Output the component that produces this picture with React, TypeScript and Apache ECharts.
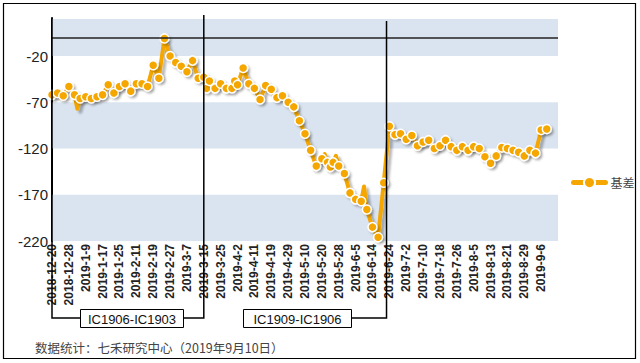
import React, { useEffect, useRef } from 'react';
import * as echarts from 'echarts';

// Trading days (category axis), grouped by month
const days2018_12 = [20, 21, 24, 25, 26, 27, 28];
const days2019_01 = [2, 3, 4, 7, 8, 9, 10, 11, 14, 15, 16, 17, 18, 21, 22, 23, 24, 25, 28, 29, 30, 31];
const days2019_02 = [1, 11, 12, 13, 14, 15, 18, 19, 20, 21, 22, 25, 26, 27, 28];
const days2019_03 = [1, 4, 5, 6, 7, 8, 11, 12, 13, 14, 15, 18, 19, 20, 21, 22, 25, 26, 27, 28, 29];
const days2019_04 = [1, 2, 3, 4, 8, 9, 10, 11, 12, 15, 16, 17, 18, 19, 22, 23, 24, 25, 26, 29, 30];
const days2019_05 = [6, 7, 8, 9, 10, 13, 14, 15, 16, 17, 20, 21, 22, 23, 24, 27, 28, 29, 30, 31];
const days2019_06 = [3, 4, 5, 6, 10, 11, 12, 13, 14, 17, 18, 19, 20, 21, 24, 25, 26, 27, 28];
const days2019_07 = [1, 2, 3, 4, 5, 8, 9, 10, 11, 12, 15, 16, 17, 18, 19, 22, 23, 24, 25, 26, 29, 30, 31];
const days2019_08 = [1, 2, 5, 6, 7, 8, 9, 12, 13, 14, 15, 16, 19, 20, 21, 22, 23, 26, 27, 28, 29, 30];
const days2019_09 = [2, 3, 4, 5, 6, 9, 10, 11, 12, 16, 17];

const months: [string, number[]][] = [
  ['2018-12-', days2018_12],
  ['2019-1-', days2019_01],
  ['2019-2-', days2019_02],
  ['2019-3-', days2019_03],
  ['2019-4-', days2019_04],
  ['2019-5-', days2019_05],
  ['2019-6-', days2019_06],
  ['2019-7-', days2019_07],
  ['2019-8-', days2019_08],
  ['2019-9-', days2019_09],
];
const dates: string[] = [];
months.forEach(([p, ds]) => ds.forEach((d) => dates.push(p + d)));

// 基差 values (null = no observation)
const basis: (number | null)[] = [
  -62, null, -60, null, -63, null, -53, null, -62, -77,
  -66, null, -64, null, -66, null, -64, null, -62, null,
  -51, null, -60, null, -53, null, -50, null, -58, null,
  -50, null, -50, null, -53, null, -30, null, -44, null,
  -1, null, -20, null, -27, null, -31, null, -37, null,
  -25, null, -44, null, -43, -55, -47, null, -55, null,
  -50, null, -55, null, -55, -47, -51, null, -33, null,
  -50, null, -55, null, -67, null, -52, null, -56, null,
  -65, null, -63, null, -70, null, -75, null, -90, null,
  -104, null, -122, null, -139, null, -131, -126, -135, -140,
  -135, -128, -139, null, -147, null, -168, null, -175, null,
  -177, -161, -186, null, -205, null, -216, null, -157, null,
  -96, null, -105, null, -104, null, -110, null, -106, null,
  -117, null, -113, null, -111, null, -120, null, -117, null,
  -111, null, -118, null, -122, null, -118, null, -122, null,
  -118, null, -120, null, -129, null, -136, null, -128, null,
  -119, null, -120, null, -122, null, -124, null, -128, null,
  -122, null, -125, null, -100, null, -99,
];
// points that are vertices of the line without a marker
const hiddenMarkers = [9, 97, 101, 111];

const yTicks = [-220, -170, -120, -70, -20];
const bands: [number, number][] = [[-220, -170], [-120, -70], [-20, 20]];
const zeroLine = 0;

const contract1 = 'IC1906-IC1903';
const contract2 = 'IC1909-IC1906';
const switch1 = '2019-3-15';
const switch2 = '2019-6-21';
const footer = '数据统计：七禾研究中心（2019年9月10日）';

const ORANGE = '#F5A700';
const BAND = '#DAE4F0';
const LATIN = 'Liberation Sans, Arial, sans-serif';
const CJK = '"Noto Sans CJK SC", sans-serif';

export default function App() {
  const ref = useRef<HTMLDivElement>(null);
  useEffect(() => {
    document.body.style.margin = '0';
    const chart = echarts.init(ref.current!, null, { renderer: 'svg' });
    const seriesData = basis.map((v, i) =>
      hiddenMarkers.includes(i) ? { value: v, symbol: 'none' } : v
    );
    chart.setOption({
      animation: false,
      backgroundColor: '#fff',
      grid: { left: 52, right: 82, top: 19, bottom: 122, containLabel: false, outerBoundsMode: 'none' },
      legend: {
        show: true,
        orient: 'vertical',
        left: 566,
        top: 171,
        itemWidth: 32,
        itemHeight: 14,
        data: ['基差'],
        lineStyle: { width: 5, cap: 'round' },
        textStyle: { fontSize: 12, color: '#444', fontFamily: CJK },
      },
      xAxis: {
        type: 'category',
        data: dates,
        boundaryGap: false,
        axisLine: { show: false },
        axisTick: { show: false },
        splitLine: { show: false },
        axisLabel: {
          interval: 5,
          showMaxLabel: false,
          rotate: 90,
          margin: 3,
          fontSize: 12,
          fontWeight: 'bold',
          color: '#222',
          fontFamily: LATIN,
        },
      },
      yAxis: {
        type: 'value',
        min: -220,
        max: 20,
        axisLine: { show: true, lineStyle: { color: '#000', width: 2 } },
        axisTick: { show: false },
        splitLine: { show: false },
        splitArea: { show: false },
        axisLabel: {
          customValues: yTicks,
          fontSize: 15,
          color: '#222',
          margin: 4,
          fontFamily: LATIN,
        },
      },
      series: [
        {
          name: '基差',
          type: 'line',
          data: seriesData,
          connectNulls: true,
          showAllSymbol: true,
          symbol: 'circle',
          symbolSize: 9,
          lineStyle: {
            color: ORANGE,
            width: 4,
            cap: 'round',
            join: 'round',
            shadowColor: 'rgba(0,0,0,0.28)',
            shadowBlur: 2,
            shadowOffsetX: 3,
            shadowOffsetY: 3,
          },
          itemStyle: {
            color: ORANGE,
            borderColor: '#fff',
            borderWidth: 1.5,
            shadowColor: 'rgba(0,0,0,0.25)',
            shadowBlur: 2,
            shadowOffsetX: 2,
            shadowOffsetY: 2,
          },
          markArea: {
            silent: true,
            itemStyle: { color: BAND, opacity: 1 },
            data: bands.map(([a, b]) => [{ yAxis: a }, { yAxis: b }]),
          },
          markLine: {
            silent: true,
            symbol: ['none', 'none'],
            label: { show: false },
            lineStyle: { color: '#222', width: 1.5, type: 'solid' },
            data: [{ yAxis: zeroLine }],
          },
        },
      ],
    });

    const px = (c: string) => chart.convertToPixel({ xAxisIndex: 0 }, c) as number;
    const x0 = px(dates[0]);
    const x1 = px(switch1);
    const x2 = px(switch2);
    const by = 318;
    const lineStyle = { stroke: '#000', lineWidth: 1.5, fill: 'none' };
    chart.setOption({
      graphic: [
        {
          type: 'rect', z: 100,
          shape: { x: 3.5, y: 3.5, width: 632, height: 355 },
          style: { fill: 'none', stroke: '#000', lineWidth: 1.2 },
        },
        { type: 'polyline', z: 100, shape: { points: [[x0, 17], [x0, by], [80, by]] }, style: lineStyle },
        { type: 'polyline', z: 100, shape: { points: [[184, by], [x1, by], [x1, 15]] }, style: lineStyle },
        { type: 'polyline', z: 100, shape: { points: [[352, by], [x2, by], [x2, 21]] }, style: lineStyle },
        {
          type: 'rect', z: 101,
          shape: { x: 80.5, y: 309.5, width: 103, height: 18 },
          style: { fill: '#fff', stroke: '#000', lineWidth: 1 },
        },
        {
          type: 'text', z: 102,
          style: { text: contract1, x: 132, y: 319, textAlign: 'center', textVerticalAlign: 'middle', fontSize: 13, fontFamily: LATIN, fill: '#111' },
        },
        {
          type: 'rect', z: 101,
          shape: { x: 243.5, y: 309.5, width: 108, height: 18 },
          style: { fill: '#fff', stroke: '#000', lineWidth: 1 },
        },
        {
          type: 'text', z: 102,
          style: { text: contract2, x: 297.5, y: 319, textAlign: 'center', textVerticalAlign: 'middle', fontSize: 13, fontFamily: LATIN, fill: '#111' },
        },
        {
          type: 'text', z: 102,
          style: { text: footer, x: 35, y: 347, textAlign: 'left', textVerticalAlign: 'middle', fontSize: 12.5, fontFamily: CJK, fill: '#444' },
        },
      ],
    });
    return () => chart.dispose();
  }, []);
  return <div ref={ref} style={{ position: 'absolute', left: 0, top: 0, width: 640, height: 363 }} />;
}
